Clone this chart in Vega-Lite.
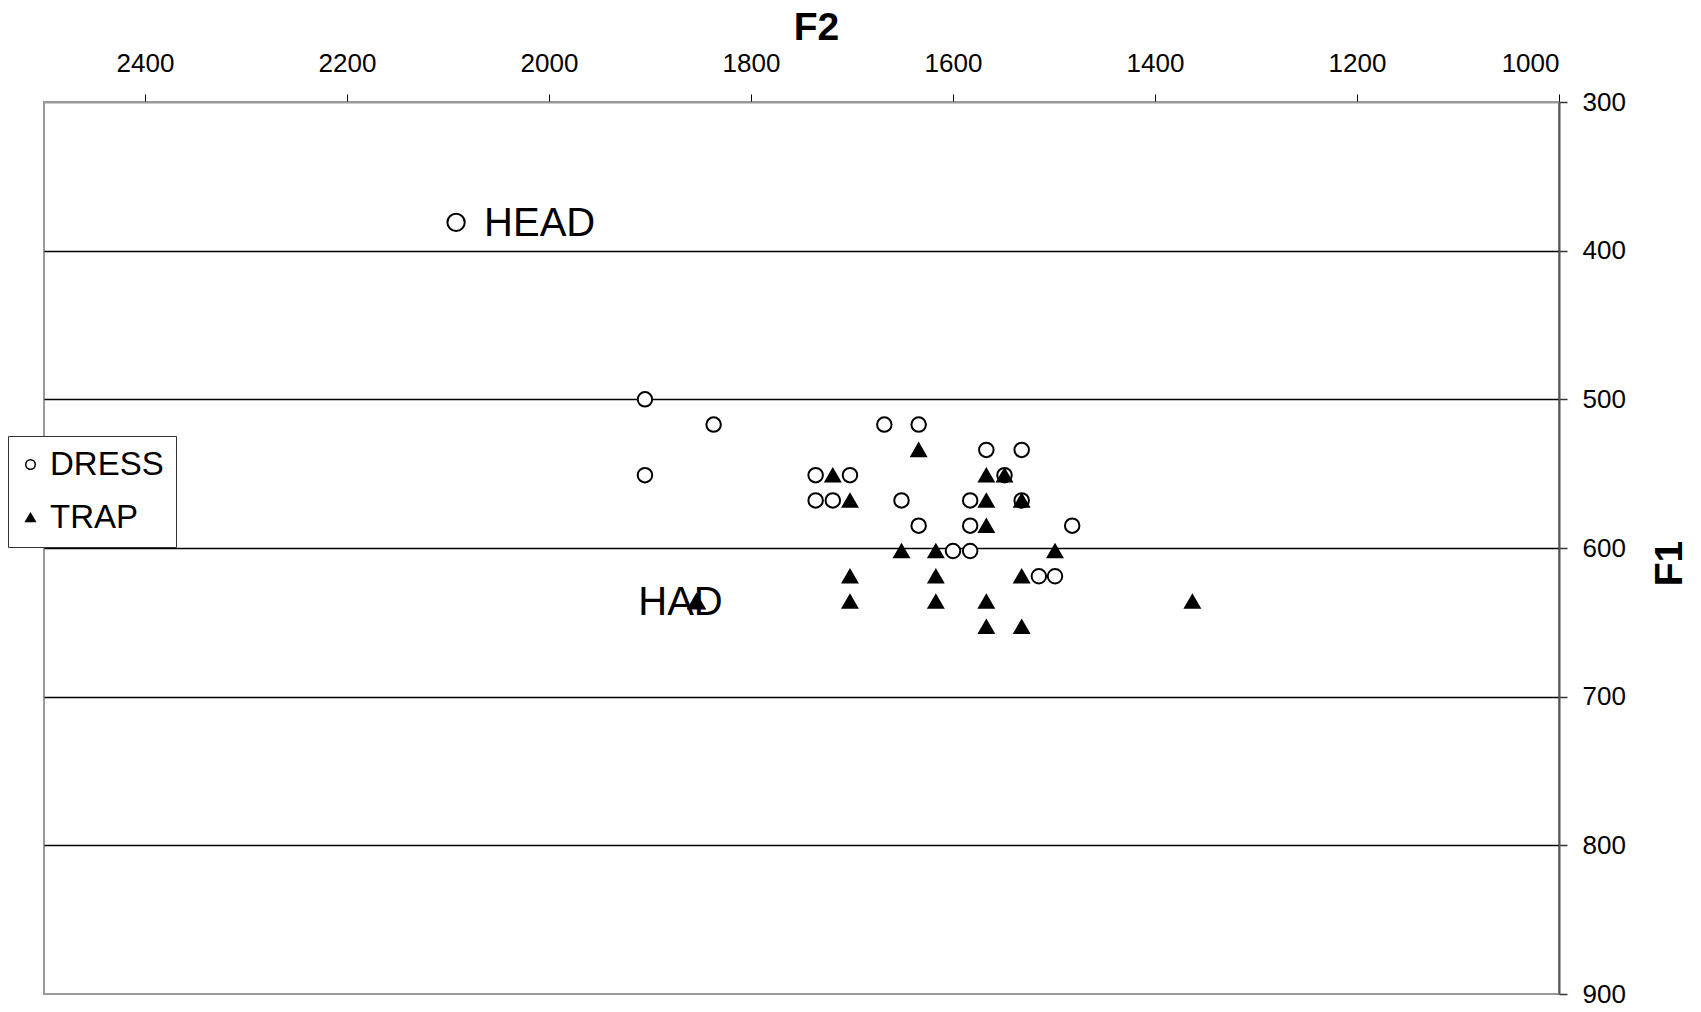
{
  "$schema": "https://vega.github.io/schema/vega-lite/v6.json",
  "autosize": "none",
  "width": 1515,
  "height": 892,
  "padding": {"left": 44, "top": 102, "right": 142, "bottom": 18},
  "background": "white",
  "config": {
    "font": "Liberation Sans",
    "view": {"stroke": "#999999", "strokeWidth": 2},
    "axis": {"labelFont": "Liberation Sans", "titleFont": "Liberation Sans"}
  },
  "datasets": {
    "tokens": [
      {"F2": 1905, "F1": 500, "set": "DRESS"},
      {"F2": 1837, "F1": 517, "set": "DRESS"},
      {"F2": 1668, "F1": 517, "set": "DRESS"},
      {"F2": 1634, "F1": 517, "set": "DRESS"},
      {"F2": 1567, "F1": 534, "set": "DRESS"},
      {"F2": 1532, "F1": 534, "set": "DRESS"},
      {"F2": 1905, "F1": 551, "set": "DRESS"},
      {"F2": 1736, "F1": 551, "set": "DRESS"},
      {"F2": 1702, "F1": 551, "set": "DRESS"},
      {"F2": 1549, "F1": 551, "set": "DRESS"},
      {"F2": 1736, "F1": 568, "set": "DRESS"},
      {"F2": 1719, "F1": 568, "set": "DRESS"},
      {"F2": 1651, "F1": 568, "set": "DRESS"},
      {"F2": 1583, "F1": 568, "set": "DRESS"},
      {"F2": 1532, "F1": 568, "set": "DRESS"},
      {"F2": 1634, "F1": 585, "set": "DRESS"},
      {"F2": 1583, "F1": 585, "set": "DRESS"},
      {"F2": 1482, "F1": 585, "set": "DRESS"},
      {"F2": 1600, "F1": 602, "set": "DRESS"},
      {"F2": 1583, "F1": 602, "set": "DRESS"},
      {"F2": 1515, "F1": 619, "set": "DRESS"},
      {"F2": 1499, "F1": 619, "set": "DRESS"},
      {"F2": 1634, "F1": 534, "set": "TRAP"},
      {"F2": 1719, "F1": 551, "set": "TRAP"},
      {"F2": 1567, "F1": 551, "set": "TRAP"},
      {"F2": 1549, "F1": 551, "set": "TRAP"},
      {"F2": 1702, "F1": 568, "set": "TRAP"},
      {"F2": 1567, "F1": 568, "set": "TRAP"},
      {"F2": 1532, "F1": 568, "set": "TRAP"},
      {"F2": 1567, "F1": 585, "set": "TRAP"},
      {"F2": 1651, "F1": 602, "set": "TRAP"},
      {"F2": 1617, "F1": 602, "set": "TRAP"},
      {"F2": 1499, "F1": 602, "set": "TRAP"},
      {"F2": 1702, "F1": 619, "set": "TRAP"},
      {"F2": 1617, "F1": 619, "set": "TRAP"},
      {"F2": 1532, "F1": 619, "set": "TRAP"},
      {"F2": 1702, "F1": 636, "set": "TRAP"},
      {"F2": 1617, "F1": 636, "set": "TRAP"},
      {"F2": 1567, "F1": 636, "set": "TRAP"},
      {"F2": 1363, "F1": 636, "set": "TRAP"},
      {"F2": 1567, "F1": 653, "set": "TRAP"},
      {"F2": 1532, "F1": 653, "set": "TRAP"}
    ],
    "refs": [
      {"F2": 2092, "F1": 381, "set": "DRESS", "label": "HEAD"},
      {"F2": 1854, "F1": 636, "set": "TRAP", "label": "HAD"}
    ]
  },
  "encoding": {
    "x": {
      "field": "F2", "type": "quantitative",
      "scale": {"domain": [1000, 2500], "reverse": true, "nice": false, "zero": false},
      "axis": {
        "orient": "top", "title": "F2", "values": [1000, 1200, 1400, 1600, 1800, 2000, 2200, 2400], "format": "d",
        "grid": false, "domainColor": "#999999", "domainWidth": 2,
        "tickColor": "black", "tickSize": 8, "tickWidth": 1,
        "labelFontSize": 26, "labelColor": "black", "labelPadding": 18,
        "titleFontSize": 39, "titleFontWeight": "bold", "titleColor": "black",
        "titleX": 772, "titleY": -75, "titleBaseline": "middle", "titleAlign": "center"
      }
    },
    "y": {
      "field": "F1", "type": "quantitative",
      "scale": {"domain": [300, 900], "reverse": true, "nice": false, "zero": false},
      "axis": {
        "orient": "right", "title": "F1", "values": [300, 400, 500, 600, 700, 800, 900], "format": "d",
        "grid": true, "gridColor": "black", "gridWidth": 1.5,
        "gridOpacity": {"condition": {"test": "datum.value == 300 || datum.value == 900", "value": 0}, "value": 1},
        "domainColor": "#555555", "domainWidth": 2,
        "tickColor": "#333333", "tickSize": 8, "tickWidth": 1.5,
        "labelFontSize": 26, "labelColor": "black", "labelPadding": 15,
        "titleFontSize": 39, "titleFontWeight": "bold", "titleColor": "black",
        "titleAngle": 270, "titleX": 110, "titleY": 461, "titleBaseline": "middle", "titleAlign": "center"
      }
    }
  },
  "layer": [
    {
      "data": {"name": "refs"},
      "transform": [{"filter": "datum.label == 'HEAD'"}],
      "mark": {"type": "text", "align": "left", "baseline": "middle", "dx": 28, "dy": 2, "fontSize": 40, "font": "Liberation Sans", "color": "black"},
      "encoding": {"text": {"field": "label"}}
    },
    {
      "data": {"name": "refs"},
      "transform": [{"filter": "datum.label == 'HAD'"}],
      "mark": {"type": "text", "align": "center", "baseline": "middle", "dx": -16, "dy": 1, "fontSize": 40, "font": "Liberation Sans", "color": "black"},
      "encoding": {"text": {"field": "label"}}
    },
    {
      "data": {"name": "tokens"},
      "mark": {"type": "point", "filled": true, "stroke": "black", "strokeWidth": 2, "opacity": 1, "size": 210},
      "encoding": {
        "shape": {
          "field": "set", "type": "nominal", "title": null,
          "scale": {"domain": ["DRESS", "TRAP"], "range": ["circle", "triangle-up"]},
          "legend": {
            "orient": "none", "legendX": -36, "legendY": 334,
            "labelFontSize": 33, "labelColor": "black", "labelFont": "Liberation Sans",
            "symbolSize": 90, "symbolOffset": -6,
            "labelOffset": 3, "rowPadding": 19, "padding": 12,
            "strokeColor": "#333333", "fillColor": "white", "cornerRadius": 0,
            "encode": {"symbols": {"update": {
              "stroke": {"value": "black"}, "strokeWidth": {"value": 1.5},
              "size": {"signal": "datum.value == 'TRAP' ? 150 : 90"}
            }}}
          }
        },
        "fill": {
          "field": "set", "type": "nominal", "title": null,
          "scale": {"domain": ["DRESS", "TRAP"], "range": ["white", "black"]},
          "legend": {
            "orient": "none", "legendX": -36, "legendY": 334,
            "labelFontSize": 33, "labelColor": "black", "labelFont": "Liberation Sans",
            "symbolSize": 90, "symbolOffset": -6,
            "labelOffset": 3, "rowPadding": 19, "padding": 12,
            "strokeColor": "#333333", "fillColor": "white", "cornerRadius": 0,
            "encode": {"symbols": {"update": {
              "stroke": {"value": "black"}, "strokeWidth": {"value": 1.5},
              "size": {"signal": "datum.value == 'TRAP' ? 150 : 90"}
            }}}
          }
        }
      }
    },
    {
      "data": {"name": "refs"},
      "transform": [{"filter": "datum.label == 'HEAD'"}],
      "mark": {"type": "point", "shape": "circle", "filled": true, "fill": "white", "stroke": "black", "strokeWidth": 2, "opacity": 1, "size": 300},
      "encoding": {}
    },
    {
      "data": {"name": "refs"},
      "transform": [{"filter": "datum.label == 'HAD'"}],
      "mark": {"type": "point", "shape": "triangle-up", "filled": true, "fill": "black", "stroke": "black", "strokeWidth": 2, "opacity": 1, "size": 260},
      "encoding": {}
    }
  ]
}
